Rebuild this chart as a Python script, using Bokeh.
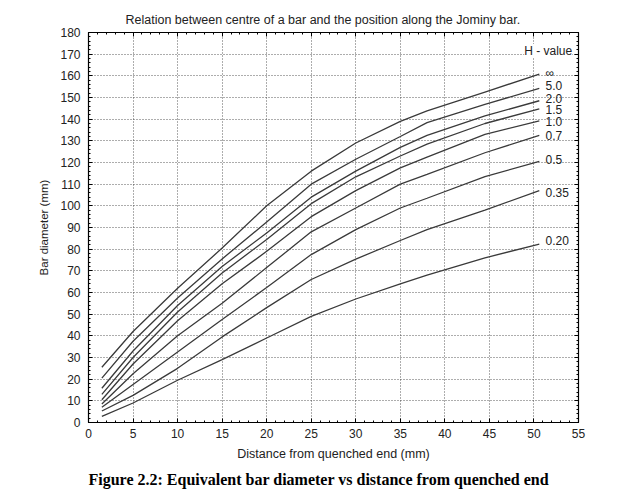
from bokeh.plotting import figure
from bokeh.models import (ColumnDataSource, Range1d, LinearAxis, SingleIntervalTicker, Title,
                          CustomLabelingPolicy)
from bokeh.core.properties import value
from bokeh.embed import file_html
from bokeh.resources import INLINE

# ---- data ----
distance = [1.5, 5, 10, 15, 20, 25, 30, 35, 38, 44.5, 50.6]
h_labels = ["\u221e", "5.0", "2.0", "1.5", "1.0", "0.7", "0.5", "0.35", "0.20"]
d_inf = [25.5, 42, 62, 80.5, 100, 116, 129, 139, 143.8, 152.5, 160.8]
d_5_0 = [20.5, 37.5, 57.5, 75.5, 92.5, 110, 121.5, 132, 138.4, 146.8, 154.2]
d_2_0 = [15.8, 33, 54, 72, 87.5, 104, 116, 127, 132.5, 141.5, 148.5]
d_1_5 = [13, 30, 51, 69, 84.5, 101, 113.4, 123, 128.5, 138, 144.8]
d_1_0 = [10.5, 27, 47, 64, 79, 95, 107, 117.5, 122.5, 133, 139.2]
d_0_7 = [8.5, 22.5, 40, 55, 71.5, 88, 99, 110, 114.5, 124.5, 132.5]
d_0_5 = [7, 17.5, 32.5, 47.5, 62.3, 77.5, 89, 99, 103.5, 113.5, 120.5]
d_0_35 = [5.3, 12.5, 25, 39.5, 53, 66, 75.4, 84, 89, 98, 107]
d_0_20 = [2.8, 9, 19.5, 29, 39, 49, 57, 64, 68, 76, 82.3]
series = [d_inf, d_5_0, d_2_0, d_1_5, d_1_0, d_0_7, d_0_5, d_0_35, d_0_20]
label_x = [51.3] * 9
label_y = [161.5, 155.4, 149.7, 144.6, 139.0, 132.4, 121.3, 106.2, 84.2]
legend_title = "H - value"
legend_title_x = 48.9
legend_title_y = 171.5

FONT = "Liberation Sans"

p = figure(width=623, height=497, output_backend="svg", toolbar_location=None,
           x_range=Range1d(0, 55), y_range=Range1d(0, 180),
           min_border_left=88, min_border_right=45, min_border_top=32, min_border_bottom=75,
           background_fill_color="white", border_fill_color="white")

p.title.text = "Relation between centre of a bar and the position along the Jominy bar."
p.title.align = "left"
p.title.offset = 37
p.title.standoff = 4
p.title.text_font = FONT
p.title.text_font_style = "normal"
p.title.text_font_size = "12.5px"
p.title.text_color = "#222222"

p.outline_line_color = "black"
p.outline_line_width = 1.2

no_labels = CustomLabelingPolicy(code="""
for (const i of indices) { indices.unset(i) }
return indices
""")

def style_axis(ax, show_labels=True):
    ax.major_tick_in = 4
    ax.major_tick_out = 0
    ax.minor_tick_in = 2
    ax.minor_tick_out = 0
    ax.axis_line_color = "black"
    ax.major_tick_line_color = "black"
    ax.minor_tick_line_color = "black"
    ax.major_label_text_font = FONT
    ax.major_label_text_font_size = "12px"
    ax.major_label_text_color = "#222222"
    ax.axis_label_text_font = FONT
    ax.axis_label_text_font_style = "normal"
    ax.axis_label_text_color = "#222222"
    if not show_labels:
        ax.major_label_policy = no_labels
        ax.major_label_standoff = 0
        ax.major_label_text_font_size = "1px"

xt = SingleIntervalTicker(interval=5, num_minor_ticks=5)
yt = SingleIntervalTicker(interval=10, num_minor_ticks=5)
p.xaxis.ticker = xt
p.yaxis.ticker = yt
style_axis(p.xaxis[0])
style_axis(p.yaxis[0])
p.xaxis.axis_label = "Distance from quenched end (mm)"
p.xaxis.axis_label_text_font_size = "12.5px"
p.xaxis.major_label_standoff = 6
p.xaxis.axis_label_standoff = 6
p.yaxis.axis_label = "Bar diameter (mm)"
p.yaxis.axis_label_text_font_size = "11.5px"
p.yaxis.major_label_standoff = 8
p.yaxis.axis_label_standoff = 7

top = LinearAxis(ticker=SingleIntervalTicker(interval=5, num_minor_ticks=5))
style_axis(top, show_labels=False)
p.add_layout(top, "above")
right = LinearAxis(ticker=SingleIntervalTicker(interval=10, num_minor_ticks=5))
style_axis(right, show_labels=False)
p.add_layout(right, "right")

p.xgrid.ticker = xt
p.ygrid.ticker = yt
for g in (p.xgrid[0], p.ygrid[0]):
    g.grid_line_color = "#333333"
    g.grid_line_dash = "1 2"
    g.grid_line_width = 1
    g.grid_line_alpha = 0.8

for s in series:
    p.line(distance, s, line_color="#3a3a3a", line_width=1.3)

lab_src = ColumnDataSource(dict(x=label_x, y=label_y, t=h_labels))
p.text(x="x", y="y", text="t", source=lab_src, text_font=value(FONT),
       text_font_size="12px", text_color="#222222", text_baseline="middle", text_align="left")

p.text(x=[legend_title_x], y=[legend_title_y], text=[legend_title], text_font=value(FONT),
       text_font_size="12px", text_color="#222222", text_baseline="middle", text_align="left",
       background_fill_color="white", background_fill_alpha=1.0)

cap = Title(text="Figure 2.2: Equivalent bar diameter vs distance from quenched end",
            align="left", text_font="Liberation Serif", text_font_style="bold",
            text_font_size="16px", text_color="black")
p.add_layout(cap, "below")

open("out.html", "w").write(file_html(p, INLINE))
